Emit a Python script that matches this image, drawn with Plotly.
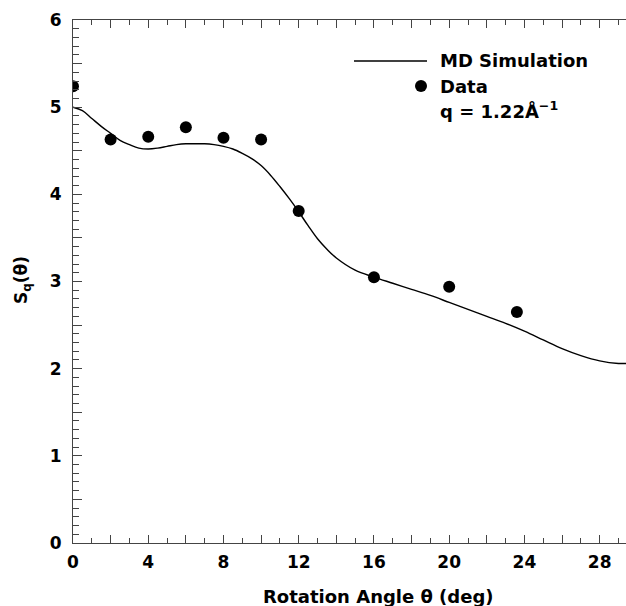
import plotly.graph_objects as go

# MD simulation curve
sim_x = [0, 0.5, 1, 1.5, 2, 2.5, 3, 3.5, 4, 4.5, 5, 5.5, 6, 6.5, 7, 7.5, 8, 8.5, 9, 9.5,
         10, 10.5, 11, 11.5, 12, 12.5, 13, 13.5, 14, 15, 16, 17, 18, 19, 20, 21, 22, 23,
         24, 25, 26, 27, 28, 29, 29.4]
sim_y = [5.00, 4.96, 4.87, 4.78, 4.70, 4.62, 4.57, 4.53, 4.52, 4.53, 4.55, 4.57, 4.58, 4.58,
         4.58, 4.57, 4.55, 4.52, 4.47, 4.41, 4.33, 4.22, 4.09, 3.95, 3.80, 3.64, 3.49, 3.37,
         3.27, 3.13, 3.05, 2.98, 2.91, 2.84, 2.76, 2.68, 2.60, 2.52, 2.43, 2.33, 2.23, 2.15,
         2.09, 2.06, 2.06]

# Measured data
data_x = [0, 2, 4, 6, 8, 10, 12, 16, 20, 23.6]
data_y = [5.24, 4.63, 4.66, 4.77, 4.65, 4.63, 3.81, 3.05, 2.94, 2.65]

FONT = "DejaVu Sans, Liberation Sans, Arial, sans-serif"
W, H = 626, 606
L, R, T, B = 73, 0, 20, 63
PW, PH = W - L - R, H - T - B


def px(xp):
    return (xp - L) / PW


def py(yp):
    return (H - B - yp) / PH


fig = go.Figure()
fig.add_trace(go.Scatter(x=sim_x, y=sim_y, mode="lines",
                         line=dict(color="black", width=1.4, shape="spline"),
                         showlegend=False))
fig.add_trace(go.Scatter(x=data_x, y=data_y, mode="markers",
                         marker=dict(color="black", size=12),
                         showlegend=False))

axis_common = dict(showgrid=False, zeroline=False, showline=True, linecolor="#444",
                   linewidth=1.2, ticks="inside", tickcolor="#444", tickwidth=1.2,
                   automargin=False,
                   tickfont=dict(family=FONT, size=17, color="black", weight="bold"))

fig.update_xaxes(range=[0, 29.4], tickmode="linear", tick0=0, dtick=2, ticklabelstep=2,
                 ticklen=8, mirror="ticks",
                 minor=dict(dtick=1, ticklen=5, ticks="inside", tickcolor="#444", tickwidth=1.2),
                 ticklabelstandoff=3,
                 **axis_common)
fig.update_yaxes(range=[0, 6], tickmode="linear", tick0=0, dtick=0.5, ticklabelstep=2,
                 ticklen=9, mirror=False,
                 minor=dict(dtick=0.1, ticklen=6, ticks="inside", tickcolor="#444", tickwidth=1.2),
                 ticklabelstandoff=7,
                 **axis_common)

# axis titles
fig.add_annotation(text="Rotation Angle θ (deg)", xref="paper", yref="paper",
                   x=px(378), y=py(596), xanchor="center", yanchor="middle", showarrow=False,
                   font=dict(family=FONT, size=18, color="black", weight="bold"))
fig.add_annotation(text="S<sub>q</sub>(θ)", xref="paper", yref="paper",
                   x=px(22), y=py(280), xanchor="center", yanchor="middle", showarrow=False,
                   textangle=-90,
                   font=dict(family=FONT, size=17, color="black", weight="bold"))

# legend drawn manually
fig.add_shape(type="line", xref="paper", yref="paper", x0=px(354), x1=px(427),
              y0=py(61), y1=py(61), line=dict(color="black", width=1.4))
fig.add_shape(type="circle", xref="paper", yref="paper",
              x0=px(415), x1=px(427), y0=py(92), y1=py(80),
              fillcolor="black", line=dict(color="black", width=0))
for txt, yp in [("MD Simulation", 61), ("Data", 86), ("q = 1.22Å<sup>−1</sup>", 110)]:
    fig.add_annotation(text=txt, xref="paper", yref="paper", x=px(438), y=py(yp),
                       xanchor="left", yanchor="middle", showarrow=False,
                       font=dict(family=FONT, size=18, color="black", weight="bold"))

fig.update_layout(width=W, height=H, margin=dict(l=L, r=R, t=T, b=B),
                  plot_bgcolor="white", paper_bgcolor="white")

fig.write_html("out.html", config={"displayModeBar": False},
               post_script="document.body.style.margin='0';document.body.style.overflow='hidden';")
